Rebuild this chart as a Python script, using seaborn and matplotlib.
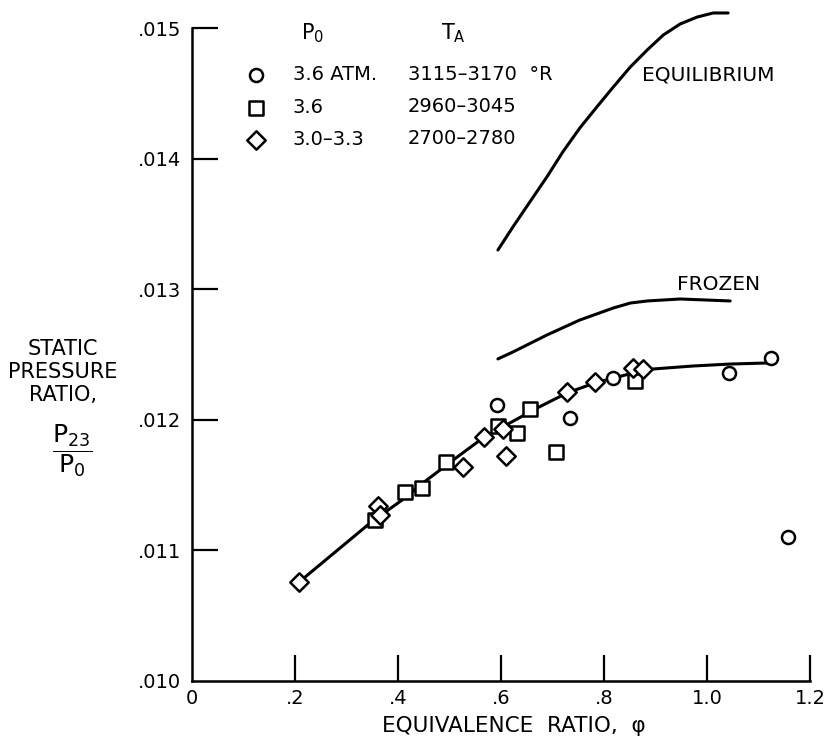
import seaborn as sns
import matplotlib.pyplot as plt
import pandas as pd

# values
circle_phi = [0.592, 0.734, 0.817, 1.043, 1.124, 1.157]
circle_ratio = [0.01211, 0.01201, 0.01232, 0.01236, 0.01247, 0.01110]

square_phi = [0.355, 0.414, 0.447, 0.493, 0.594, 0.631, 0.656, 0.707, 0.860]
square_ratio = [0.01123, 0.01145, 0.01148, 0.01168, 0.01195, 0.01190, 0.01208, 0.01175, 0.01230]

diamond_phi = [0.208, 0.361, 0.365, 0.526, 0.567, 0.604, 0.610, 0.728, 0.782, 0.856, 0.876]
diamond_ratio = [0.01076, 0.01134, 0.01127, 0.01164, 0.01187, 0.01193, 0.01172, 0.01221, 0.01229, 0.01240, 0.01239]

fit_phi = [0.208, 0.346, 0.408, 0.456, 0.515, 0.565, 0.617, 0.670, 0.728, 0.782, 0.856, 0.895, 0.973, 1.045, 1.118]
fit_ratio = [0.010758, 0.011210, 0.011386, 0.011539, 0.011715, 0.011861, 0.011975, 0.012090,
             0.012205, 0.012282, 0.012358, 0.012389, 0.012412, 0.012427, 0.012435]

equil_phi = [0.594, 0.623, 0.656, 0.689, 0.720, 0.753, 0.786, 0.818, 0.851, 0.884,
             0.915, 0.948, 0.981, 1.012, 1.041]
equil_ratio = [0.013300, 0.013476, 0.013668, 0.013859, 0.014051, 0.014234, 0.014395, 0.014548,
               0.014701, 0.014832, 0.014946, 0.015031, 0.015084, 0.015115, 0.015115]

frozen_phi = [0.594, 0.623, 0.689, 0.753, 0.818, 0.851, 0.884, 0.948, 1.045]
frozen_ratio = [0.012466, 0.012519, 0.012649, 0.012764, 0.012856, 0.012894, 0.012910, 0.012925, 0.012910]

x_ticks = [0, 0.2, 0.4, 0.6, 0.8, 1.0, 1.2]
x_labels = ['0', '.2', '.4', '.6', '.8', '1.0', '1.2']
y_ticks = [0.010, 0.011, 0.012, 0.013, 0.014, 0.015]
y_labels = ['.010', '.011', '.012', '.013', '.014', '.015']

groups = [
    ('3.6 ATM.', '3115\u20133170  \u00b0R', 'o', circle_phi, circle_ratio),
    ('3.6', '2960\u20133045', 's', square_phi, square_ratio),
    ('3.0\u20133.3', '2700\u20132780', 'D', diamond_phi, diamond_ratio),
]

W, H = 826, 746


def fx(px):
    return px / W


def fy(py):
    return 1 - py / H


sns.set_theme(style='ticks')
plt.rcParams['font.family'] = ['DejaVu Sans']
plt.rcParams['mathtext.default'] = 'regular'
plt.rcParams['text.color'] = 'black'
plt.rcParams['xtick.color'] = 'black'
plt.rcParams['ytick.color'] = 'black'

fig = plt.figure(figsize=(W / 100, H / 100), dpi=100)
ax = fig.add_axes([fx(192), fy(681), fx(810) - fx(192), fy(28) - fy(681)])

# curves
for xs, ys in [(fit_phi, fit_ratio), (equil_phi, equil_ratio), (frozen_phi, frozen_ratio)]:
    sns.lineplot(x=xs, y=ys, ax=ax, color='black', lw=2.2, sort=False, estimator=None)
    ax.lines[-1].set_clip_on(False)
    ax.lines[-1].set_solid_capstyle('round')
    ax.lines[-1].set_solid_joinstyle('round')

# data points
for lab, ta, mk, xs, ys in groups:
    df = pd.DataFrame({'phi': xs, 'ratio': ys})
    sns.scatterplot(data=df, x='phi', y='ratio', ax=ax, marker=mk, s=88,
                    facecolor='white', edgecolor='black', linewidth=1.8,
                    label=lab, zorder=3)

ax.set_xlim(0, 1.2)
ax.set_ylim(0.010, 0.015)
ax.set_xticks(x_ticks)
ax.set_xticklabels(x_labels)
ax.set_yticks(y_ticks)
ax.set_yticklabels(y_labels)
ax.tick_params(direction='in', length=19, width=1.6, labelsize=14, colors='black')
ax.tick_params(axis='x', pad=6)
ax.tick_params(axis='y', pad=8)
ax.xaxis.get_major_ticks()[0].tick1line.set_visible(False)
ax.yaxis.get_major_ticks()[0].tick1line.set_visible(False)
for side in ['top', 'right']:
    ax.spines[side].set_visible(False)
for side in ['left', 'bottom']:
    ax.spines[side].set_linewidth(1.8)
    ax.spines[side].set_color('black')
ax.set_xlabel('')
ax.set_ylabel('')

leg = ax.legend(loc='upper left', bbox_to_anchor=(fx(246), fy(65)),
                bbox_transform=fig.transFigure, frameon=False, fontsize=14,
                handlelength=1.0, handletextpad=1.4, labelspacing=0.7,
                borderpad=0, borderaxespad=0)

# second legend column and headers
for i, (lab, ta, mk, xs, ys) in enumerate(groups):
    fig.text(fx(408), fy(75 + 32 * i), ta, fontsize=14, ha='left', va='center')
fig.text(fx(313), fy(33), '$P_0$', fontsize=15, ha='center', va='center')
fig.text(fx(453), fy(33), '$T_A$', fontsize=15, ha='center', va='center')

# curve labels
fig.text(fx(642), fy(75), 'EQUILIBRIUM', fontsize=14.5, ha='left', va='center')
fig.text(fx(677), fy(285), 'FROZEN', fontsize=14.5, ha='left', va='center')

# axis titles
fig.text(fx(514), fy(726), 'EQUIVALENCE  RATIO,  \u03c6', fontsize=15.5, ha='center', va='center')
fig.text(fx(63), fy(372), 'STATIC\nPRESSURE\nRATIO,', fontsize=15, ha='center', va='center',
         linespacing=1.2)
fig.text(fx(72), fy(451), r'$\dfrac{P_{23}}{P_0}$', fontsize=18, ha='center', va='center')

fig.savefig('out.png', dpi=100)
